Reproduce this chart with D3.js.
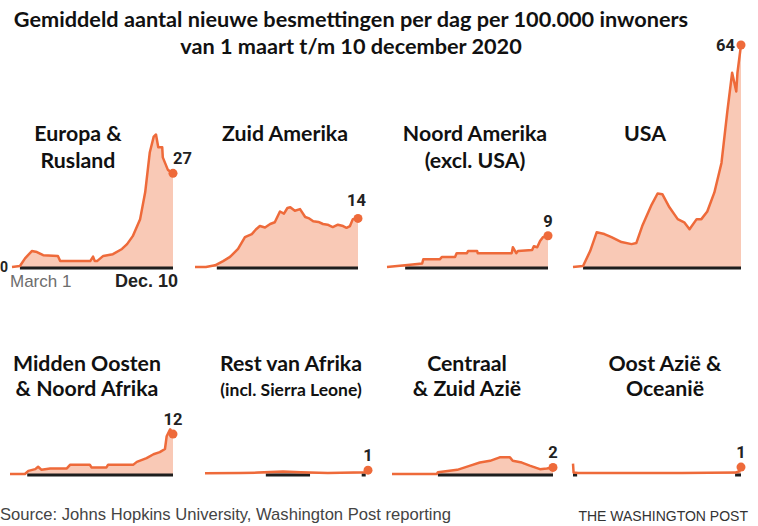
<!DOCTYPE html>
<html><head><meta charset="utf-8">
<script src="https://cdn.jsdelivr.net/npm/d3@7"></script>
<style>body{margin:0;background:#fff;overflow:hidden} svg{display:block}</style>
</head><body><svg id="c" width="758" height="526"></svg>
<script>
// ---------- DATA ----------
const titleLines = ["Gemiddeld aantal nieuwe besmettingen per dag per 100.000 inwoners",
                    "van 1 maart t/m 10 december 2020"];
const regionNames = [["Europa &","Rusland"],["Zuid Amerika"],["Noord Amerika","(excl. USA)"],["USA"],
                     ["Midden Oosten","& Noord Afrika"],["Rest van Afrika","(incl. Sierra Leone)"],
                     ["Centraal","& Zuid Azië"],["Oost Azië &","Oceanië"]];
const lastLabels = ["27","14","9","64","12","1","2","1"];
const dateRange = ["2020-03-01","2020-12-10"];
const axisLabels = ["0","March 1","Dec. 10"];
const sourceText = "Source: Johns Hopkins University, Washington Post reporting";
const creditText = "THE WASHINGTON POST";

const europa = [["2020-03-01",0],["2020-03-15",0.3],["2020-03-24",2.5],["2020-04-05",4.6],["2020-04-14",4.3],
  ["2020-04-25",3.4],["2020-05-21",3.2],["2020-05-25",1.7],["2020-07-17",1.7],["2020-07-22",3.0],["2020-07-25",1.7],
  ["2020-07-29",1.7],["2020-08-09",3.2],["2020-08-26",3.7],["2020-09-11",5.2],["2020-09-20",6.6],["2020-09-30",8.9],
  ["2020-10-13",13.8],["2020-10-22",21.6],["2020-10-30",33],["2020-11-06",37.6],["2020-11-10",38.2],["2020-11-14",34.5],
  ["2020-11-21",34.5],["2020-11-22",31.6],["2020-12-01",28],["2020-12-10",27]];
const zuidAmerika = [["2020-03-01",0],["2020-03-20",0],["2020-04-05",0.5],["2020-04-19",1.7],["2020-05-01",2.9],
  ["2020-05-15",5.2],["2020-05-27",8.6],["2020-06-08",9.5],["2020-06-15",10.8],["2020-06-22",11.8],["2020-07-01",11.4],
  ["2020-07-10",12.4],["2020-07-18",12.9],["2020-07-27",16],["2020-08-03",15.4],["2020-08-09",17.0],["2020-08-14",17.2],
  ["2020-08-22",16.2],["2020-08-31",16.7],["2020-09-09",14.4],["2020-09-16",14.0],["2020-09-23",13.2],["2020-10-02",13.0],
  ["2020-10-10",12.4],["2020-10-18",12.2],["2020-10-27",11.5],["2020-11-05",12.2],["2020-11-14",11.8],["2020-11-20",11.3],
  ["2020-11-26",11.8],["2020-12-01",13.8],["2020-12-10",14]];
const noordAmerika = [["2020-03-01",0],["2020-04-02",0.5],["2020-05-02",1.0],["2020-05-04",2.2],["2020-06-02",2.2],
  ["2020-06-06",2.9],["2020-06-29",2.9],["2020-07-02",4.0],["2020-07-20",4.0],["2020-07-22",4.6],["2020-08-07",4.6],
  ["2020-08-08",4.0],["2020-10-07",4.0],["2020-10-09",5.7],["2020-10-15",4.0],["2020-10-18",4.6],["2020-11-12",4.9],
  ["2020-11-15",6.0],["2020-11-21",5.7],["2020-11-26",7.5],["2020-12-01",8.6],["2020-12-10",9]];
const usa = [["2020-03-01",0],["2020-03-18",0.3],["2020-03-30",4.6],["2020-04-10",10],["2020-04-23",9.5],
  ["2020-05-05",8.6],["2020-05-22",7.2],["2020-06-08",6.6],["2020-06-16",6.9],["2020-06-26",11.8],["2020-07-12",18],
  ["2020-07-22",21.2],["2020-07-30",21],["2020-08-11",17.2],["2020-08-25",13.8],["2020-09-05",12.9],["2020-09-14",10.9],
  ["2020-09-26",13.8],["2020-10-04",13.8],["2020-10-14",16],["2020-10-26",21.5],["2020-11-07",30],["2020-11-17",45],
  ["2020-11-25",56],["2020-12-02",50.6],["2020-12-04",56],["2020-12-10",64]];
const middenOosten = [["2020-03-01",0],["2020-03-27",0],["2020-04-02",0.9],["2020-04-14",1.4],["2020-04-19",2.1],
  ["2020-04-25",1.2],["2020-05-10",1.6],["2020-06-08",1.6],["2020-06-14",2.7],["2020-07-18",2.7],["2020-07-21",1.9],
  ["2020-08-16",1.9],["2020-08-19",2.7],["2020-10-02",2.7],["2020-10-08",3.5],["2020-10-25",4.6],["2020-11-06",5.7],
  ["2020-11-17",6.3],["2020-11-26",7.2],["2020-11-29",10.9],["2020-12-05",12.9],["2020-12-10",11.5]];
const restAfrika = [["2020-03-01",0.2],["2020-05-01",0.3],["2020-06-01",0.4],["2020-07-15",0.7],["2020-08-15",0.5],
  ["2020-10-01",0.3],["2020-11-15",0.4],["2020-12-05",0.5],["2020-12-10",1.1]];
const centraalAzie = [["2020-03-01",0],["2020-05-19",0],["2020-05-21",0.5],["2020-06-24",1.2],["2020-07-17",2.4],
  ["2020-08-03",3.3],["2020-08-21",3.8],["2020-09-07",4.8],["2020-09-25",4.8],["2020-09-30",3.8],["2020-10-16",3.3],
  ["2020-10-30",2.4],["2020-11-17",1.4],["2020-11-29",1.6],["2020-12-10",1.9]];
const oostAzie = [["2020-03-01",3.0],["2020-03-02",0.4],["2020-03-10",0.3],["2020-06-01",0.3],["2020-09-01",0.3],
  ["2020-12-01",0.4],["2020-12-07",0.8],["2020-12-10",2.0]];
const series = [europa, zuidAmerika, noordAmerika, usa, middenOosten, restAfrika, centraalAzie, oostAzie];
// black baseline segments (date ranges) per region
const axisSegments = [
  [["2020-03-15","2020-12-10"]],
  [["2020-04-08","2020-12-10"]],
  [["2020-04-02","2020-12-10"]],
  [["2020-03-18","2020-12-10"]],
  [["2020-03-31","2020-12-10"]],
  [["2020-06-15","2020-08-31"],["2020-11-29","2020-12-06"]],
  [["2020-05-21","2020-12-10"]],
  [["2020-03-01","2020-03-08"],["2020-11-30","2020-12-10"]]
];

// ---------- LAYOUT ----------
const layout = [
  {x0:12, x1:173, base:267, tx:78,  ty:141, lab:"right"},
  {x0:195,x1:358, base:267, tx:285, ty:141, lab:"upleft"},
  {x0:387,x1:548, base:267, tx:475, ty:141, lab:"up"},
  {x0:573,x1:741, base:267, tx:645, ty:141, lab:"left"},
  {x0:10, x1:173, base:474, tx:87,  ty:371, lab:"up"},
  {x0:205,x1:368, base:474, tx:291, ty:371, lab:"up"},
  {x0:392,x1:553, base:474, tx:467, ty:371, lab:"up"},
  {x0:573,x1:741, base:474, tx:665, ty:371, lab:"up"}
];
const ORANGE = "#ee6a3a", FILL = "#f9c9b6";
const TITLE_FONT = "Lato, 'Open Sans', sans-serif";
const SANS = "'Liberation Sans', Arial, sans-serif";

const svg = d3.select("#c");
const parse = d3.timeParse("%Y-%m-%d");
const domain = dateRange.map(parse);
const h = d3.scaleLinear().domain([0, 64]).range([0, 222]);

// main title
svg.selectAll("text.title").data(titleLines).join("text")
  .attr("class","title").attr("x",351).attr("y",(d,i)=>27+i*27)
  .attr("text-anchor","middle").attr("font-family",TITLE_FONT).attr("font-weight",700)
  .attr("font-size",21.7).attr("fill","#111").text(d=>d);

series.forEach((data, i) => {
  const L = layout[i];
  const x = d3.scaleTime().domain(domain).range([L.x0, L.x1]);
  const y = v => L.base - h(v);
  const g = svg.append("g");
  const pts = data.map(d => ({date: parse(d[0]), value: d[1]}));

  g.append("path").datum(pts)
    .attr("d", d3.area().x(d=>x(d.date)).y0(L.base).y1(d=>y(d.value)))
    .attr("fill", FILL);
  // black baseline segments
  g.selectAll("line.ax").data(axisSegments[i]).join("line").attr("class","ax")
    .attr("x1",d=>x(parse(d[0]))).attr("x2",d=>x(parse(d[1])))
    .attr("y1",L.base+1).attr("y2",L.base+1)
    .attr("stroke","#1e1e1e").attr("stroke-width",3);
  g.append("path").datum(pts)
    .attr("d", d3.line().x(d=>x(d.date)).y(d=>y(d.value)))
    .attr("fill","none").attr("stroke",ORANGE).attr("stroke-width",2.5)
    .attr("stroke-linejoin","round");
  const last = pts[pts.length-1];
  const cx = x(last.date), cy = y(last.value);
  g.append("circle").attr("cx",cx).attr("cy",cy).attr("r",4.5).attr("fill",ORANGE);

  // value label
  let lx = cx, ly = cy - 9, anchor = "middle";
  if (L.lab === "right") { lx = cx; ly = cy - 9; anchor = "start"; }
  if (L.lab === "upleft") { lx = cx + 8; ly = cy - 12; anchor = "end"; }
  if (L.lab === "left") { lx = cx - 6; ly = cy + 6; anchor = "end"; }
  g.append("text").attr("x",lx).attr("y",ly).attr("text-anchor",anchor)
    .attr("font-family","Roboto, 'Liberation Sans', sans-serif").attr("font-weight",700)
    .attr("font-size",16.5).attr("fill","#222").text(lastLabels[i]);

  // region title
  const small = i === 5;
  g.selectAll("text.rt").data(regionNames[i]).join("text").attr("class","rt")
    .attr("x",L.tx).attr("y",(d,j)=>L.ty + j*(i<4?27:25))
    .attr("text-anchor","middle").attr("font-family",TITLE_FONT).attr("font-weight",700)
    .attr("font-size",(d,j)=> (small && j===1) ? 17.5 : 21.3).attr("fill","#111").text(d=>d);

  if (i === 0) {
    g.append("text").attr("x",0).attr("y",L.base+5)
      .attr("font-family","Roboto, sans-serif").attr("font-weight",700).attr("font-size",14)
      .attr("fill","#222").text(axisLabels[0]);
    g.append("text").attr("x",10).attr("y",287)
      .attr("font-family",SANS).attr("font-size",17)
      .attr("fill","#6d6d6d").text(axisLabels[1]);
    g.append("text").attr("x",178).attr("y",287).attr("text-anchor","end")
      .attr("font-family",SANS).attr("font-weight",700).attr("font-size",18)
      .attr("fill","#222").text(axisLabels[2]);
  }
});

// footer
svg.append("text").attr("x",0).attr("y",520)
  .attr("font-family",SANS).attr("font-size",16.6)
  .attr("fill","#444").text(sourceText);
svg.append("text").attr("x",748).attr("y",521).attr("text-anchor","end")
  .attr("font-family",SANS).attr("font-size",14)
  .attr("fill","#333").text(creditText);
</script>
</body></html>
